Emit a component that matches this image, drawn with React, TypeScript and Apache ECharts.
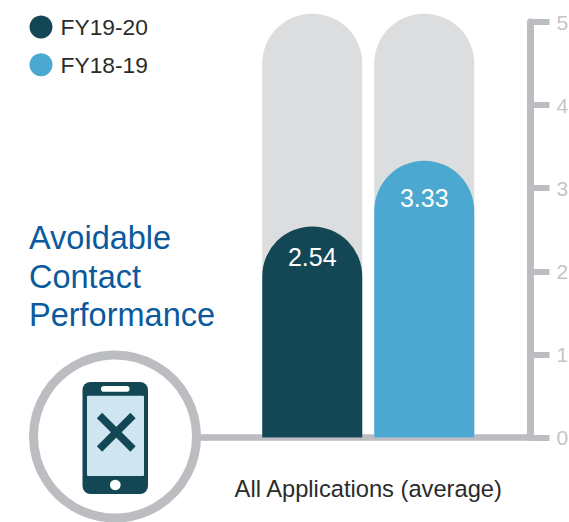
import React, { useEffect, useRef } from "react";
import * as echarts from "echarts";

const categories = ["All Applications (average)"];
const currentYear = [2.54];
const priorYear = [3.33];
const trackHeight = [5.1];
const yTicks = { min: 0, max: 5, interval: 1 };
const legendNames = ["FY19-20", "FY18-19"];
const heading = ["Avoidable", "Contact", "Performance"];

const DARK = "#134755";
const BLUE = "#4ba8d1";
const TRACK = "#dcddde";
const RULE = "#bcbdc1";
const SANS = "'Liberation Sans', Arial, sans-serif";

const hiddenCategoryAxis = {
  type: "category",
  data: categories,
  show: false,
};

export default function App() {
  const ref = useRef<HTMLDivElement>(null);

  useEffect(() => {
    const chart = echarts.init(ref.current!, null, { renderer: "svg" });
    const bar = (name: string, data: number[], color: string, axis: number, labelGap?: number) => ({
      type: "bar",
      name,
      data,
      xAxisIndex: axis,
      barWidth: 100,
      barGap: "12%",
      clip: false,
      z: axis === 0 ? 1 : 2,
      itemStyle: { color, borderRadius: [50, 50, 0, 0] },
      label: labelGap !== undefined
        ? {
            show: true,
            position: "insideTop",
            distance: labelGap,
            color: "#ffffff",
            fontFamily: SANS,
            fontSize: 25,
            formatter: (p: any) => p.value.toFixed(2),
          }
        : { show: false },
    });

    chart.setOption({
      animation: false,
      textStyle: { fontFamily: SANS },
      grid: { left: 206, right: 38.5, top: 22, bottom: 84.5, outerBoundsMode: "none" },
      legend: {
        data: legendNames,
        orient: "vertical",
        left: 29.5,
        top: 15.5,
        padding: 0,
        icon: "circle",
        itemWidth: 23,
        itemHeight: 23,
        itemGap: 14.7,
        textStyle: { color: "#2b2b2b", fontFamily: SANS, fontSize: 22.8, padding: [0, 0, 0, 3] },
      },
      title: {
        text: heading.join("\n"),
        left: 24,
        top: 214,
        textStyle: {
          color: "#0b5a9e",
          fontFamily: SANS,
          fontSize: 32.5,
          fontWeight: "normal",
          lineHeight: 38.5,
        },
      },
      xAxis: [
        {
          type: "category",
          data: categories,
          axisLine: { show: true, lineStyle: { color: RULE, width: 6.5 } },
          axisTick: { show: false },
          axisLabel: { color: "#2b2b2b", fontFamily: SANS, fontSize: 23.7, margin: 39 },
        },
        hiddenCategoryAxis,
      ],
      yAxis: {
        type: "value",
        position: "right",
        ...yTicks,
        axisLine: { show: true, lineStyle: { color: RULE, width: 7 } },
        axisTick: { show: true, length: 19, lineStyle: { color: RULE, width: 6 } },
        axisLabel: { color: "#c4c5c8", fontFamily: SANS, fontSize: 21, margin: 26 },
        splitLine: { show: false },
      },
      series: [
        bar("Scale FY19-20", trackHeight, TRACK, 0),
        bar("Scale FY18-19", trackHeight, TRACK, 0),
        bar(legendNames[0], currentYear, DARK, 1, 18),
        bar(legendNames[1], priorYear, BLUE, 1, 25),
      ],
      graphic: [
        { type: "rect", shape: { x: 198, y: 434.25, width: 10, height: 6.5 }, style: { fill: RULE }, z: 5 },
        { type: "circle", shape: { cx: 115, cy: 436.5, r: 81.5 }, style: { fill: "#ffffff", stroke: RULE, lineWidth: 9 }, z: 6 },
        { type: "rect", shape: { x: 82.5, y: 382, width: 65.5, height: 112, r: 8 }, style: { fill: DARK }, z: 7 },
        { type: "rect", shape: { x: 87, y: 395.7, width: 57, height: 80.3, r: 1 }, style: { fill: "#cfe5f0" }, z: 8 },
        { type: "rect", shape: { x: 101, y: 386, width: 28.5, height: 5.7, r: 2.8 }, style: { fill: "#ffffff" }, z: 8 },
        { type: "circle", shape: { cx: 115.3, cy: 485, r: 5.3 }, style: { fill: "#ffffff" }, z: 8 },
        { type: "line", shape: { x1: 99.5, y1: 415.5, x2: 133, y2: 449 }, style: { stroke: DARK, lineWidth: 7.5 }, z: 9 },
        { type: "line", shape: { x1: 133, y1: 415.5, x2: 99.5, y2: 449 }, style: { stroke: DARK, lineWidth: 7.5 }, z: 9 },
      ],
    });
    return () => chart.dispose();
  }, []);

  return (
    <div
      ref={ref}
      style={{ position: "absolute", left: 0, top: 0, width: 569, height: 522, background: "#ffffff" }}
    />
  );
}
